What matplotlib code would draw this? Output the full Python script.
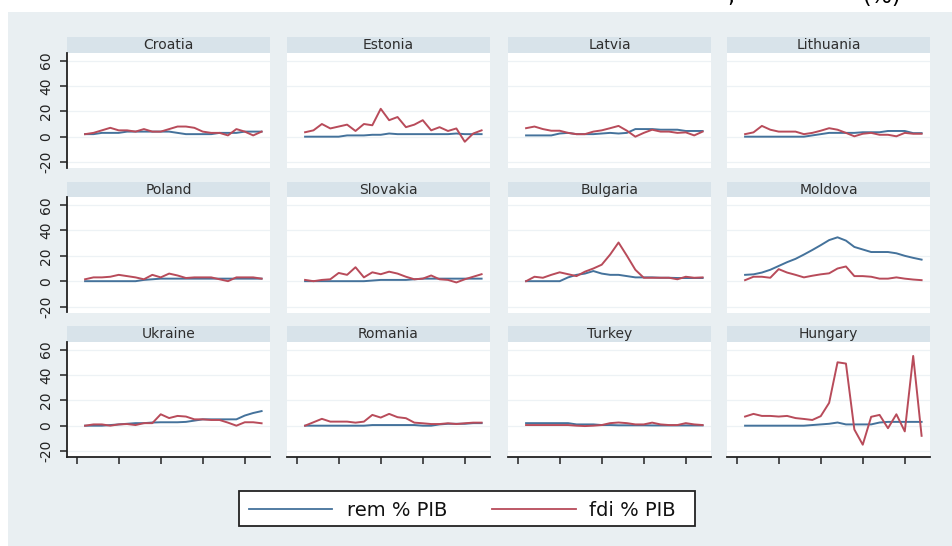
import matplotlib
matplotlib.use("Agg")
import matplotlib.pyplot as plt
from matplotlib.patches import Rectangle
from matplotlib.lines import Line2D

W, H = 952, 546

years = list(range(1991, 2013))
x_ticks = [1990, 1995, 2000, 2005, 2010]
y_ticks = [-20, 0, 20, 40, 60]

countries = ["Croatia", "Estonia", "Latvia", "Lithuania",
             "Poland", "Slovakia", "Bulgaria", "Moldova",
             "Ukraine", "Romania", "Turkey", "Hungary"]

# remittances, % of GDP
rem_croatia = [2, 2, 3, 3, 3, 4, 4, 4, 4, 4, 4, 3, 2, 2, 2, 2, 3, 3, 3, 4, 4, 4]
rem_estonia = [0, 0, 0, 0, 0, 1, 1, 1, 1.5, 1.5, 2.5, 2, 2, 2, 2, 2, 2, 2, 2.5, 2, 2, 2]
rem_latvia = [1, 1, 1, 1, 2.5, 3, 2, 2, 2, 2.5, 3, 2.5, 3, 6, 6, 6, 5.5, 5.5, 5.5, 4.5, 4.5, 4.5]
rem_lithuania = [0, 0, 0, 0, 0, 0, 0, 0, 1, 2, 3, 3, 3, 3, 3.5, 3.5, 3.5, 4.5, 4.5, 4.5, 2.8, 2.8]
rem_poland = [0, 0, 0, 0, 0, 0, 0, 1, 1.5, 2, 2, 2, 2, 2, 2, 2, 2, 2, 2, 2, 2, 2]
rem_slovakia = [0, 0, 0, 0, 0, 0, 0, 0, 0.5, 1, 1, 1, 1, 1.5, 2, 2, 2, 2, 2, 2, 2, 2]
rem_bulgaria = [0, 0, 0, 0, 0, 3, 5, 6, 8, 6, 5, 5, 4, 3, 3, 3, 2.7, 2.7, 2.5, 2.5, 2.5, 2.5]
rem_moldova = [5, 5.4, 6.8, 9, 12, 15, 17.6, 21, 24.6, 28.4, 32.4, 34.6, 32, 27, 25, 23, 23, 23, 22, 20, 18.4, 17]
rem_ukraine = [0, 0, 0, 0.5, 1, 1.5, 2, 2, 2.5, 2.7, 2.7, 2.7, 3, 4, 5, 5, 5, 5, 5, 8, 10, 11.5]
rem_romania = [0, 0, 0, 0, 0, 0, 0, 0, 0.5, 0.5, 0.5, 0.5, 0.5, 0.5, 0, 0, 1, 1.5, 1.5, 1.5, 2, 2]
rem_turkey = [2, 2, 2, 2, 2, 2, 1, 1, 1, 0.5, 0.5, 0.3, 0.3, 0.3, 0.3, 0.2, 0.2, 0.2, 0.2, 0.2, 0.2, 0.2]
rem_hungary = [0, 0, 0, 0, 0, 0, 0, 0, 0.5, 1, 1.5, 2.5, 1, 1, 1, 1, 2.5, 3, 3, 3, 3, 3]

# foreign direct investment, % of GDP
fdi_croatia = [2, 3, 5, 7, 5, 5, 4, 6, 4, 4, 6, 8, 8, 7, 4, 3, 3, 1, 6, 4, 1, 4]
fdi_estonia = [3.5, 5, 10, 6.5, 8, 9.5, 4.5, 10, 9, 22, 13, 15.5, 7.5, 9.5, 13, 5, 7.5, 4.5, 6.5, -4, 2.5, 5]
fdi_latvia = [6.7, 8, 6, 4.7, 4.7, 3, 2, 2, 4, 5, 6.7, 8.5, 4.7, 0, 3, 5.5, 4, 4, 3, 3.4, 1, 4]
fdi_lithuania = [2, 3.4, 8.5, 5.5, 4, 4, 4, 2, 3, 4.7, 6.7, 5.5, 3, 0.3, 2.3, 3, 1.5, 1.5, 0.3, 3, 2.3, 2.3]
fdi_poland = [1.5, 3, 3, 3.5, 5, 4, 3, 1.5, 5, 3, 6, 4.5, 2.5, 3, 3, 3, 1.5, 0, 3, 3, 3, 2]
fdi_slovakia = [1, 0, 1, 1.5, 6.5, 5, 11, 3, 7, 5.5, 7.5, 6, 3.5, 1.5, 2, 4.5, 1.5, 1, -1, 1.5, 3.5, 5.5]
fdi_bulgaria = [0, 3.5, 2.7, 5, 7, 5.5, 4, 7.5, 10, 13, 21, 30.5, 20, 9, 2.7, 2.7, 2.7, 2.7, 1.5, 3.5, 2.7, 3]
fdi_moldova = [0.8, 3.5, 3.5, 2.7, 9.5, 6.8, 5, 3, 4.3, 5.4, 6.2, 10, 11.6, 4, 4, 3.5, 2, 2, 3, 2, 1.3, 0.8]
fdi_ukraine = [0, 1, 1, 0, 1, 1.3, 0.5, 2, 2, 9, 6, 7.7, 7.2, 5, 5, 4.5, 4.5, 2.4, 0, 2.7, 2.7, 1.9]
fdi_romania = [0, 2.7, 5.4, 3.2, 3.2, 3.2, 2.4, 3.2, 8.5, 6.4, 9.3, 6.7, 5.9, 2.4, 1.9, 1.3, 1.3, 1.9, 1.3, 1.9, 2.4, 2.4]
fdi_turkey = [0.5, 0.5, 0.5, 0.5, 0.5, 0.5, 0, -0.3, 0, 0.5, 2, 2.5, 2, 1, 1, 2.4, 1, 0.5, 0.5, 2, 1, 0.5]
fdi_hungary = [7.2, 9.3, 7.7, 7.7, 7.2, 7.7, 6, 5.3, 4.5, 7.5, 18, 50, 49, -3, -15, 7, 8.5, -2, 9, -4.5, 55, -8]

rem_series = [rem_croatia, rem_estonia, rem_latvia, rem_lithuania,
              rem_poland, rem_slovakia, rem_bulgaria, rem_moldova,
              rem_ukraine, rem_romania, rem_turkey, rem_hungary]
fdi_series = [fdi_croatia, fdi_estonia, fdi_latvia, fdi_lithuania,
              fdi_poland, fdi_slovakia, fdi_bulgaria, fdi_moldova,
              fdi_ukraine, fdi_romania, fdi_turkey, fdi_hungary]

legend_labels = ["rem % PIB", "fdi % PIB"]

REM_COLOR = "#44729b"
FDI_COLOR = "#b84b5a"
BG = "#e9eff2"
STRIP = "#d8e3ea"
GRID = "#edf2f5"

plt.rcParams["font.family"] = ["DejaVu Sans"]
plt.rcParams["axes.unicode_minus"] = False

fig = plt.figure(figsize=(W / 100, H / 100), dpi=100)
fig.patch.set_facecolor("white")


def fig_rect(x0, y0, w, h):
    """Pixel box (top-left origin) to figure fraction [l, b, w, h]."""
    return [x0 / W, 1 - (y0 + h) / H, w / W, h / H]


def add_box(x0, y0, w, h, **kw):
    l, b, ww, hh = fig_rect(x0, y0, w, h)
    fig.patches.append(Rectangle((l, b), ww, hh, transform=fig.transFigure, **kw))
    return l, b, ww, hh


# graph region background
add_box(8, 12, W - 8, H - 12, facecolor=BG, edgecolor="none", zorder=-2)

col_left = [67, 287, 508, 727]
col_width = 203
strip_top = [37, 181.5, 326]
strip_h = 16
plot_top = [53, 197.5, 342]
plot_h = 115

for k, name in enumerate(countries):
    r, c = divmod(k, 4)
    x0 = col_left[c]

    # title strip
    l, b, w, h = add_box(x0, strip_top[r], col_width, strip_h,
                         facecolor=STRIP, edgecolor="none", zorder=-1)
    fig.text(l + w / 2, b + h / 2, name, ha="center", va="center",
             fontsize=10, color="#2e2e2e")

    ax = fig.add_axes(fig_rect(x0, plot_top[r], col_width, plot_h))
    ax.set_zorder(2)
    ax.set_facecolor("white")
    ax.plot(years, rem_series[k], color=REM_COLOR, lw=1.4, zorder=3)
    ax.plot(years, fdi_series[k], color=FDI_COLOR, lw=1.4, zorder=3)
    ax.set_xlim(1988.85, 2013.0)
    ax.set_ylim(-24.7, 66)
    ax.set_yticks(y_ticks)
    ax.set_xticks(x_ticks)
    ax.grid(axis="y", color=GRID, lw=0.9, zorder=0)
    ax.set_axisbelow(True)
    for side in ("top", "right", "left", "bottom"):
        ax.spines[side].set_visible(False)

    if c == 0:
        ax.spines["left"].set_visible(True)
        ax.spines["left"].set_color("#222222")
        ax.spines["left"].set_linewidth(1.3)
        ax.tick_params(axis="y", length=5, width=1.1, color="#222222",
                       labelsize=10, labelcolor="#222222", pad=5)
        for t in ax.get_yticklabels():
            t.set_rotation(90)
            t.set_va("center")
    else:
        ax.tick_params(axis="y", left=False, labelleft=False)

    if r == 2:
        ax.spines["bottom"].set_visible(True)
        ax.spines["bottom"].set_color("#222222")
        ax.spines["bottom"].set_linewidth(1.3)
        ax.tick_params(axis="x", length=5, width=1.1, color="#222222",
                       labelbottom=False)
    else:
        ax.tick_params(axis="x", bottom=False, labelbottom=False)

# legend: framed key with two line samples
add_box(239, 491, 456, 35, facecolor="white", edgecolor="#222222",
        linewidth=1.3, zorder=1)
key_y = 1 - 508.5 / H
for (x_a, x_b, x_t), color, label in zip(
        [(249, 332, 347), (492, 576, 589)], [REM_COLOR, FDI_COLOR], legend_labels):
    fig.lines.append(Line2D([x_a / W, x_b / W], [key_y, key_y],
                            transform=fig.transFigure, color=color, lw=1.3,
                            zorder=2))
    fig.text(x_t / W, key_y, label, ha="left", va="center_baseline",
             fontsize=14, color="#111111", zorder=3)

# title line running off the top edge
fig.text(727 / W, 1 - 3 / H, ",", fontsize=16, ha="left", va="baseline",
         color="black")
fig.text(862 / W, 1 - 3 / H, "(%)", fontsize=16, ha="left", va="baseline",
         color="black")

fig.savefig("out.png", dpi=100, facecolor=fig.get_facecolor())
